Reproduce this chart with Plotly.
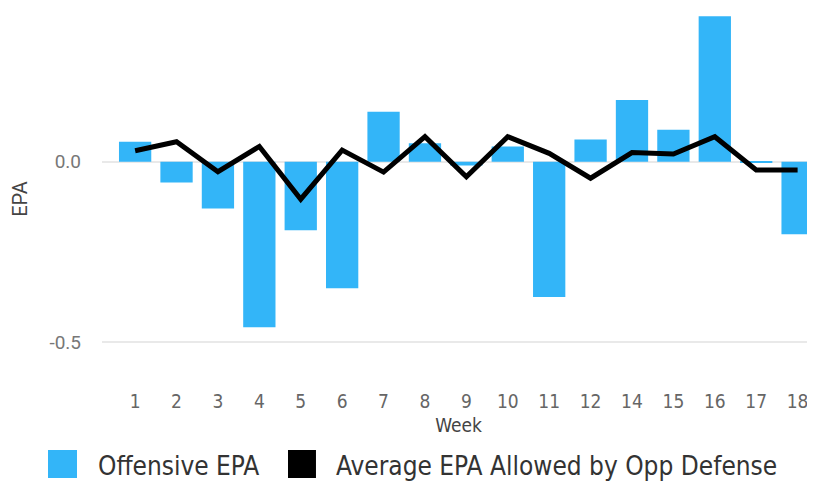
import plotly.graph_objects as go

weeks = ["1", "2", "3", "4", "5", "6", "7", "8", "9", "10", "11", "12", "14", "15", "16", "17", "18"]
offensive_epa = [0.055, -0.058, -0.130, -0.459, -0.190, -0.351, 0.138, 0.051, -0.011, 0.042,
                 -0.375, 0.061, 0.171, 0.088, 0.403, -0.004, -0.201]
opp_def_epa = [0.030, 0.055, -0.028, 0.042, -0.104, 0.032, -0.029, 0.069, -0.042, 0.069,
               0.023, -0.046, 0.025, 0.021, 0.069, -0.023, -0.023]
y_ticks = [-0.5, 0.0]
y_tick_labels = ["-0.5", "0.0"]
series_names = ["Offensive EPA", "Average EPA Allowed by Opp Defense"]

BLUE = "#33B5F8"
COND = "DejaVu Sans Condensed, Liberation Sans Narrow, sans-serif"
REG = "Roboto, sans-serif"

fig = go.Figure()
fig.add_trace(go.Bar(x=weeks, y=offensive_epa, name=series_names[0],
                     marker=dict(color=BLUE, line=dict(width=0))))
fig.add_trace(go.Scatter(x=weeks, y=opp_def_epa, mode="lines", name=series_names[1],
                         line=dict(color="black", width=5), line_shape="linear"))

# custom legend (large square swatches)
legend_items = [(series_names[0], BLUE, -0.0757, -0.0351, -0.009),
                (series_names[1], "black", 0.2609, 0.3001, 0.3255)]
for name, col, x0, x1, xt in legend_items:
    fig.add_shape(type="rect", xref="paper", yref="paper", x0=x0, x1=x1, y0=-0.2381, y1=-0.164,
                  fillcolor=col, line=dict(width=0))
    fig.add_annotation(text=name, xref="paper", yref="paper", x=xt, y=-0.2063,
                       xanchor="left", yanchor="middle", showarrow=False,
                       font=dict(family=COND, size=26, color="#333333"))

fig.update_layout(
    width=807, height=474,
    margin=dict(l=94, r=0, t=2, b=94, autoexpand=False),
    plot_bgcolor="white", paper_bgcolor="white",
    bargap=0.22,
    showlegend=False,
    font=dict(family=COND, color="#666666"),
)
fig.update_xaxes(type="category", categoryorder="array", categoryarray=weeks,
                 range=[-0.8, 16.42], showgrid=False, zeroline=False, showline=False,
                 ticks="", automargin=False,
                 tickfont=dict(family=COND, size=19, color="#666666"),
                 title=dict(text="Week", font=dict(family=COND, size=19, color="#444444"), standoff=7))
fig.update_yaxes(range=[-0.627, 0.42], tickvals=y_ticks, ticktext=y_tick_labels,
                 showgrid=True, gridcolor="#E9E9E9", gridwidth=2,
                 zeroline=True, zerolinecolor="#E9E9E9", zerolinewidth=2,
                 ticks="", ticklabelstandoff=20, automargin=False,
                 tickfont=dict(family=REG, size=19, color="#777777"),
                 title=dict(text="EPA", font=dict(family=REG, size=20, color="#444444"), standoff=26))

fig.write_html("out.html")
